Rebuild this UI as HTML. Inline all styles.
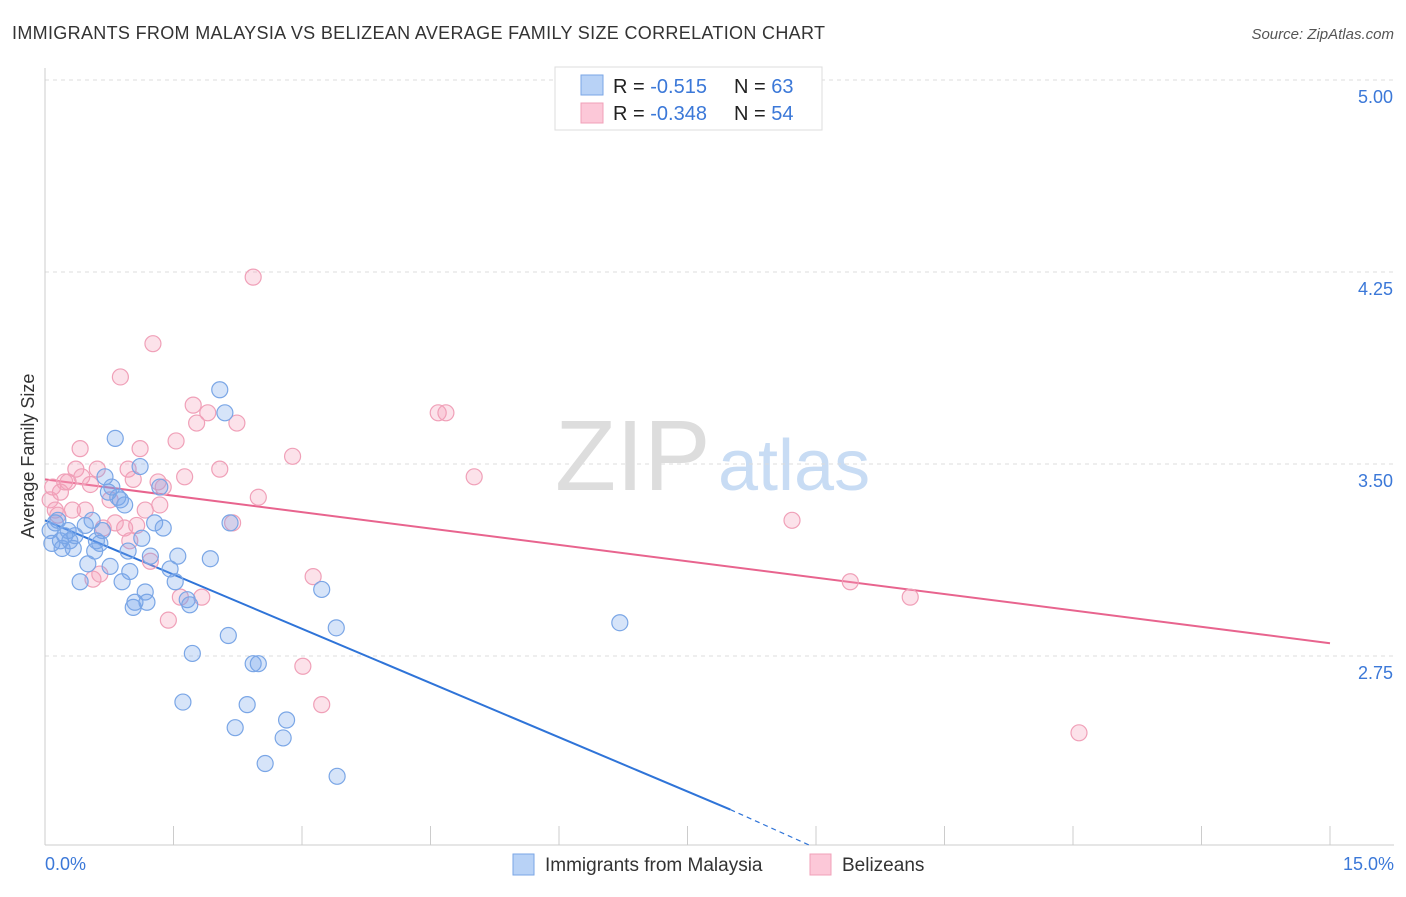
<!DOCTYPE html>
<html><head><meta charset="utf-8">
<style>
body{margin:0;background:#fff;font-family:"Liberation Sans",sans-serif;}
svg text{font-family:"Liberation Sans",sans-serif;}
</style></head>
<body>
<svg id="chart" width="1406" height="892">
<text x="12" y="39" font-size="18" fill="#333" textLength="813">IMMIGRANTS FROM MALAYSIA VS BELIZEAN AVERAGE FAMILY SIZE CORRELATION CHART</text>
<text x="1394" y="39" font-size="15" fill="#555" font-style="italic" text-anchor="end">Source: ZipAtlas.com</text>
<text x="555" y="490" font-size="100" fill="#ddd" font-family="Liberation Serif">ZIP</text>
<text x="718" y="490" font-size="72" fill="#c8dcf4">atlas</text>
<text transform="translate(34,456) rotate(-90)" font-size="18" fill="#333" text-anchor="middle">Average Family Size</text>
<g id="grid"></g><g id="axes"></g><g id="lines"></g><g id="pts"></g>
<g>
<rect x="555" y="67" width="267" height="63" fill="#fff" stroke="#ddd"/>
<rect x="581" y="75" width="22" height="20" fill="#b8d2f6" stroke="#7aa6e6"/>
<rect x="581" y="103" width="22" height="20" fill="#fcc8d8" stroke="#f0a0b8"/>
<text x="613" y="93" font-size="20" fill="#222">R = <tspan fill="#3b78d8"> -0.515</tspan><tspan x="734">N = </tspan><tspan fill="#3b78d8">63</tspan></text>
<text x="613" y="120" font-size="20" fill="#222">R = <tspan fill="#3b78d8">-0.348</tspan><tspan x="734">N = </tspan><tspan fill="#3b78d8">54</tspan></text>
</g>
<g>
<rect x="513" y="854" width="21" height="21" fill="#b8d2f6" stroke="#7aa6e6"/>
<text x="545" y="871" font-size="19" fill="#333">Immigrants from Malaysia</text>
<rect x="810" y="854" width="21" height="21" fill="#fcc8d8" stroke="#f0a0b8"/>
<text x="842" y="871" font-size="19" fill="#333">Belizeans</text>
</g>
</svg>
<script>
const yTicks=[5.00,4.25,3.50,2.75];
const xTickLabels=["0.0%","15.0%"];
const blueX=[0.06,0.12,0.15,0.18,0.08,0.20,0.23,0.29,0.33,0.35,0.27,0.41,0.47,0.50,0.55,0.58,0.60,0.64,0.67,0.70,0.74,0.76,0.78,0.82,0.85,0.88,0.90,0.93,0.97,0.99,1.03,1.05,1.11,1.13,1.17,1.19,1.23,1.28,1.34,1.38,1.46,1.52,1.55,1.61,1.66,1.69,1.72,1.93,2.04,2.10,2.14,2.16,2.22,2.36,2.43,2.49,2.57,2.78,2.82,3.23,3.40,3.41,6.71];
const blueY=[3.24,3.27,3.28,3.20,3.19,3.17,3.22,3.20,3.17,3.22,3.24,3.04,3.26,3.11,3.28,3.16,3.20,3.19,3.24,3.45,3.39,3.10,3.41,3.60,3.37,3.36,3.04,3.34,3.16,3.08,2.94,2.96,3.49,3.21,3.00,2.96,3.14,3.27,3.41,3.25,3.09,3.04,3.14,2.57,2.97,2.95,2.76,3.13,3.79,3.70,2.83,3.27,2.47,2.56,2.72,2.72,2.33,2.43,2.50,3.01,2.86,2.28,2.88];
const pinkX=[0.06,0.09,0.12,0.15,0.18,0.23,0.27,0.32,0.36,0.41,0.43,0.47,0.53,0.56,0.61,0.64,0.68,0.76,0.82,0.88,0.93,0.97,0.99,1.03,1.07,1.11,1.17,1.23,1.26,1.32,1.34,1.38,1.44,1.53,1.58,1.63,1.73,1.77,1.83,1.90,2.04,2.19,2.24,2.43,2.49,2.89,3.13,3.01,3.23,4.59,4.68,5.01,8.72,9.40,10.10,12.07];
const pinkY=[3.36,3.41,3.32,3.30,3.39,3.43,3.43,3.32,3.48,3.56,3.45,3.32,3.42,3.05,3.48,3.07,3.25,3.36,3.27,3.84,3.25,3.48,3.20,3.44,3.26,3.56,3.32,3.12,3.97,3.43,3.34,3.41,2.89,3.59,2.98,3.45,3.73,3.66,2.98,3.70,3.48,3.27,3.66,4.23,3.37,3.53,3.06,2.71,2.56,3.70,3.70,3.45,3.28,3.04,2.98,2.45];
const blueTrendX=[0,8.0,8.93];
const blueTrendY=[3.28,2.15,2.01];
const pinkTrendX=[0,15];
const pinkTrendY=[3.44,2.80];

const X=v=>45+v/15*1285;
const Y=v=>80+(5-v)*256;
const NS="http://www.w3.org/2000/svg";
function mk(tag,attrs,parent){const e=document.createElementNS(NS,tag);for(const k in attrs)e.setAttribute(k,attrs[k]);document.getElementById(parent).appendChild(e);return e;}

yTicks.forEach(t=>{
  const l=mk('line',{x1:45,x2:1394,y1:Y(t),y2:Y(t),stroke:'#ddd','stroke-dasharray':'4,4'},'grid');
  
  
  const tx=mk('text',{x:1393,y:Y(t)+23,'font-size':18,fill:'#3b78d8','text-anchor':'end'},'grid');
  tx.textContent=t.toFixed(2);
  
  
});
const ax=mk('line',{x1:45,x2:45,y1:68,y2:845,stroke:'#ccc'},'axes');


const bx=mk('line',{x1:45,x2:1394,y1:845,y2:845,stroke:'#ccc'},'axes');


for(let i=0;i<=10;i++){
  const xx=X(i*1.5);
  const t=mk('line',{x1:xx,x2:xx,y1:826,y2:845,stroke:'#ccc'},'axes');
  
  
}
[[0,'start',45],[1,'end',1394]].forEach(([i,a,xx])=>{
  const t=mk('text',{x:xx,y:870,'font-size':18,fill:'#3b78d8','text-anchor':a},'axes');
  t.textContent=xTickLabels[i];
  
  
});

function pts(xs,ys,fill,stroke,name){
  xs.forEach((v,i)=>{
    const c=mk('circle',{cx:X(v),cy:Y(ys[i]),r:8,fill:fill,stroke:stroke,'stroke-width':1.2},'pts');
    
    
  });
}
pts(pinkX,pinkY,'rgba(246,160,186,0.3)','#f0a0b8','belizean-point');
pts(blueX,blueY,'rgba(120,165,235,0.3)','#7aa6e6','malaysia-point');

const bl=mk('line',{x1:X(blueTrendX[0]),y1:Y(blueTrendY[0]),x2:X(blueTrendX[1]),y2:Y(blueTrendY[1]),stroke:'#2f74d8','stroke-width':2},'lines');


const bd=mk('line',{x1:X(blueTrendX[1]),y1:Y(blueTrendY[1]),x2:X(blueTrendX[2]),y2:Y(blueTrendY[2]),stroke:'#2f74d8','stroke-width':1.2,'stroke-dasharray':'5,4'},'lines');


const pl=mk('line',{x1:X(pinkTrendX[0]),y1:Y(pinkTrendY[0]),x2:X(pinkTrendX[1]),y2:Y(pinkTrendY[1]),stroke:'#e8648e','stroke-width':2},'lines');


</script>
</body></html>
